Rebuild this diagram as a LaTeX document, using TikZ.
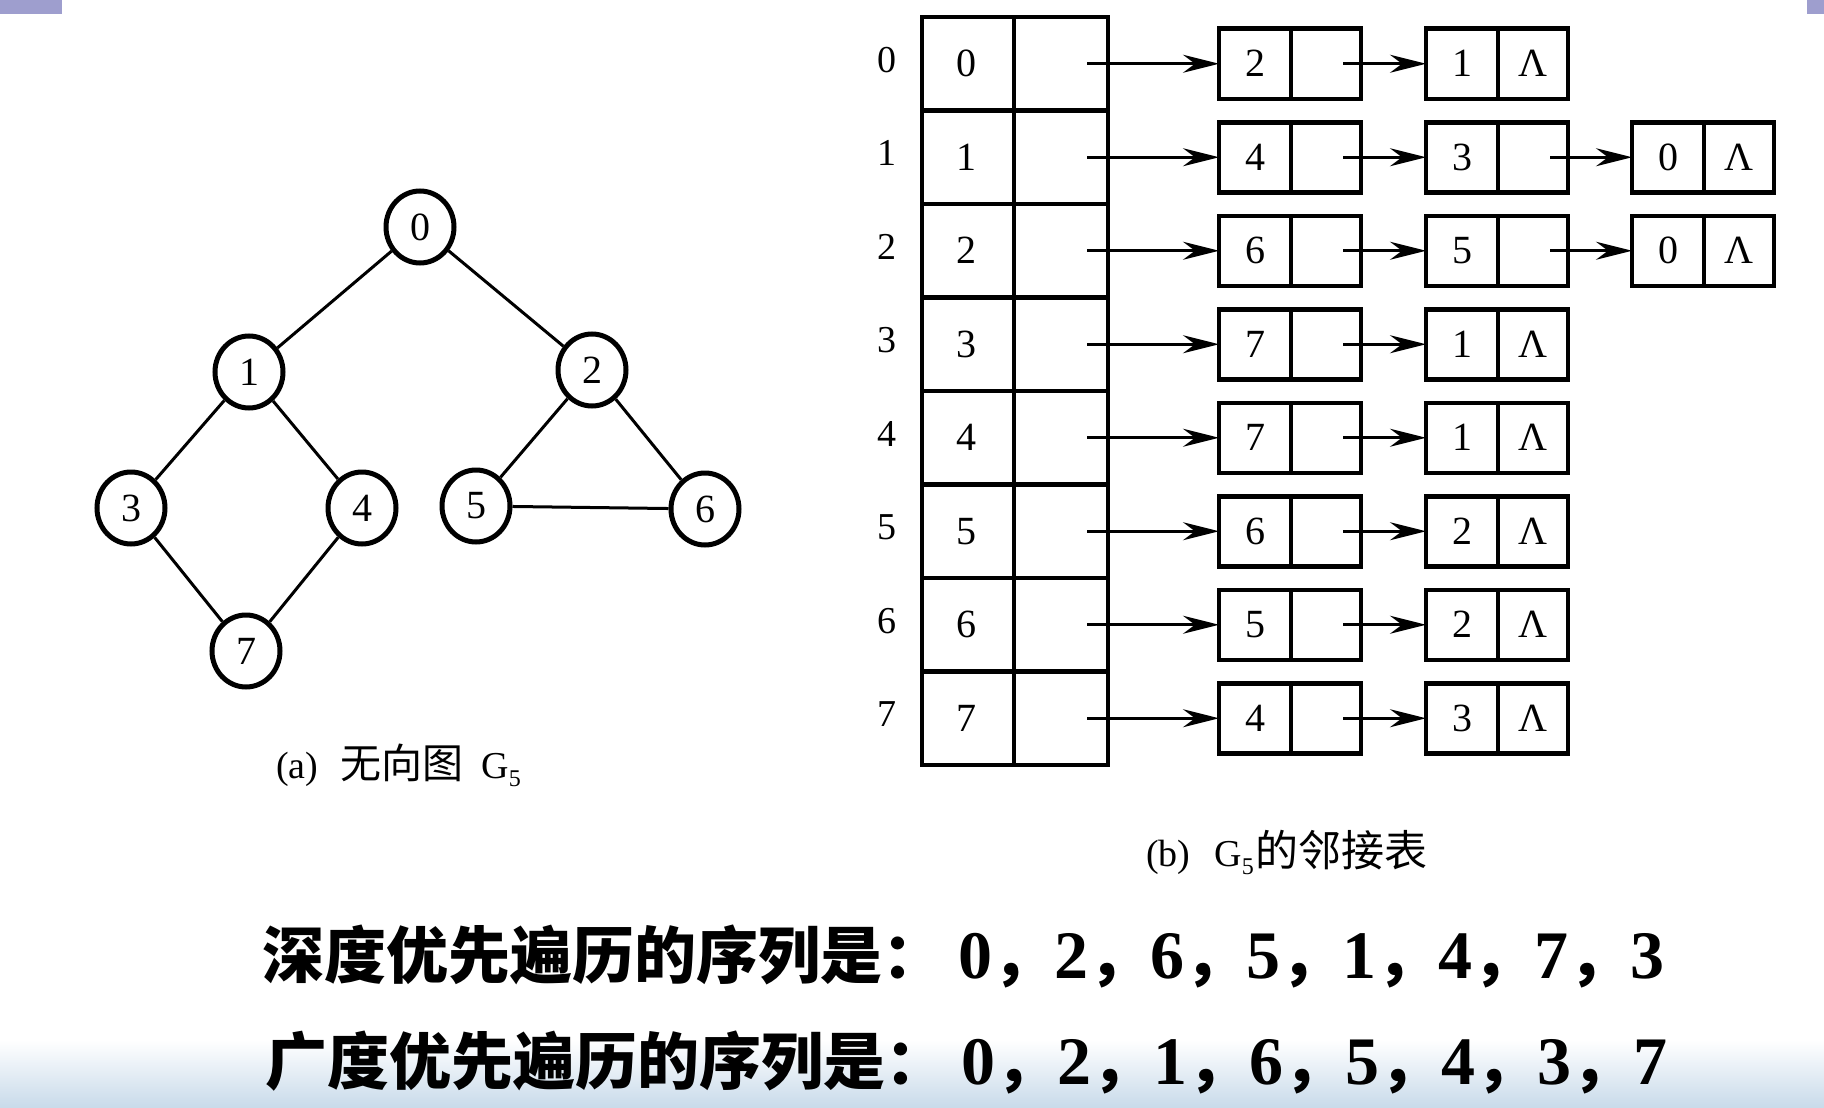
\documentclass[tikz,border=0pt]{standalone}
\usepackage{fontspec}
\setmainfont{Liberation Serif}
\newfontfamily\cjk{Noto Sans CJK SC}
\usetikzlibrary{arrows.meta,shapes.geometric}
\definecolor{tabpurple}{RGB}{158,158,206}
\definecolor{seablue}{RGB}{200,218,234}
\newcommand\zhb[1]{{\cjk\bfseries\fontsize{62}{62}\selectfont #1}}
\newcommand\dgb[1]{{\fontsize{68}{68}\selectfont\bfseries #1}}
\newcommand\subfive{\raisebox{-0.22em}{\fontsize{24}{24}\selectfont 5}}
\newcommand\lnode[5]{%
  \node[lbox] (#1) at (#2,#3) {};
  \draw[ldiv] ([xshift=72pt]#1.north west) -- ([xshift=72pt]#1.south west);
  \node[ltxt] (#1v) at ([xshift=36pt]#1.west) {#4};
  \node[ltxt] (#1n) at ([xshift=107pt]#1.west) {#5};
  \coordinate (#1p) at ([xshift=124pt]#1.west);
}
\begin{document}
\begin{tikzpicture}[x=1pt,y=-1pt,
  gnode/.style={ellipse, draw, line width=5pt, minimum width=68pt, minimum height=72pt, inner sep=0pt, font=\fontsize{40}{40}\selectfont},
  gedge/.style={line width=3pt},
  lbox/.style={draw, line width=4.5pt, minimum width=142pt, minimum height=70pt, inner sep=0pt, outer sep=0pt, anchor=west},
  ldiv/.style={line width=3.5pt},
  ltxt/.style={font=\fontsize{40}{40}\selectfont, inner sep=0pt},
  tline/.style={line width=4.5pt},
  tnum/.style={font=\fontsize{40}{40}\selectfont, inner sep=0pt},
  inum/.style={font=\fontsize{38}{38}\selectfont, inner sep=0pt},
  arr/.style={line width=3pt, -{Stealth[length=36pt,width=18pt,inset=12pt]}},
  captext/.style={font=\fontsize{38}{38}\selectfont, anchor=base west, inner sep=0pt},
  seqtext/.style={anchor=base west, inner sep=0pt}
]
\useasboundingbox (0,0) rectangle (1824,1108);
\fill[white] (0,0) rectangle (1824,1108);
\shade[top color=white, bottom color=seablue] (0,1040) rectangle (1824,1108);
\fill[tabpurple] (0,0) rectangle (62,14);
\fill[tabpurple] (1807,0) rectangle (1824,14);

% ---- graph G5 ----
\node[gnode] (n0) at (420,227) {0};
\node[gnode] (n1) at (249,372) {1};
\node[gnode] (n2) at (592,370) {2};
\node[gnode] (n3) at (131,508) {3};
\node[gnode] (n4) at (362,508) {4};
\node[gnode] (n5) at (476,506) {5};
\node[gnode] (n6) at (705,509) {6};
\node[gnode] (n7) at (246,651) {7};
\draw[gedge] (n0) -- (n1);
\draw[gedge] (n0) -- (n2);
\draw[gedge] (n1) -- (n3);
\draw[gedge] (n1) -- (n4);
\draw[gedge] (n3) -- (n7);
\draw[gedge] (n4) -- (n7);
\draw[gedge] (n2) -- (n5);
\draw[gedge] (n2) -- (n6);
\draw[gedge] (n5) -- (n6);
\node[captext] (capa) at (276,778) {(a)\hspace{22pt}{\cjk\fontsize{41}{41}\selectfont 无向图}\hspace{18pt}G\subfive};

% ---- table ----
\draw[tline] (922,17) rectangle (1108,765);
\draw[tline] (1014,17) -- (1014,765);
\foreach \i in {1,...,7} {\draw[tline] (922,{17+93.5*\i}) -- (1108,{17+93.5*\i});}
\foreach \i in {0,...,7} {
  \pgfmathsetmacro\yc{63.75+93.5*\i}
  \node[tnum] (v\i) at (966,\yc) {\i};
  \node[inum] (idx\i) at (887,\yc-4) {\i};
  \coordinate (p\i) at (1087,\yc);
}

% ---- adjacency lists ----
\lnode{a0}{1219}{63.75}{2}{}
\lnode{b0}{1426}{63.75}{1}{Λ}
\lnode{a1}{1219}{157.25}{4}{}
\lnode{b1}{1426}{157.25}{3}{}
\lnode{c1}{1632}{157.25}{0}{Λ}
\lnode{a2}{1219}{250.75}{6}{}
\lnode{b2}{1426}{250.75}{5}{}
\lnode{c2}{1632}{250.75}{0}{Λ}
\lnode{a3}{1219}{344.25}{7}{}
\lnode{b3}{1426}{344.25}{1}{Λ}
\lnode{a4}{1219}{437.75}{7}{}
\lnode{b4}{1426}{437.75}{1}{Λ}
\lnode{a5}{1219}{531.25}{6}{}
\lnode{b5}{1426}{531.25}{2}{Λ}
\lnode{a6}{1219}{624.75}{5}{}
\lnode{b6}{1426}{624.75}{2}{Λ}
\lnode{a7}{1219}{718.25}{4}{}
\lnode{b7}{1426}{718.25}{3}{Λ}
\foreach \i in {0,...,7} {
  \draw[arr] (p\i) -- (a\i.west);
  \draw[arr] (a\i p) -- (b\i.west);
}
\draw[arr] (b1p) -- (c1.west);
\draw[arr] (b2p) -- (c2.west);
\node[captext] (capb) at (1146,866) {(b)\hspace{24pt}G\subfive\hspace{2pt}{\cjk\fontsize{43}{43}\selectfont 的邻接表}};

% ---- traversal sequences ----
\node[seqtext] (dfs) at (262,978) {\zhb{深度优先遍历的序列是：}\hspace{14pt}\dgb{0}\zhb{，}\dgb{2}\zhb{，}\dgb{6}\zhb{，}\dgb{5}\zhb{，}\dgb{1}\zhb{，}\dgb{4}\zhb{，}\dgb{7}\zhb{，}\dgb{3}};
\node[seqtext] (bfs) at (265,1084) {\zhb{广度优先遍历的序列是：}\hspace{14pt}\dgb{0}\zhb{，}\dgb{2}\zhb{，}\dgb{1}\zhb{，}\dgb{6}\zhb{，}\dgb{5}\zhb{，}\dgb{4}\zhb{，}\dgb{3}\zhb{，}\dgb{7}};
\end{tikzpicture}
\end{document}
